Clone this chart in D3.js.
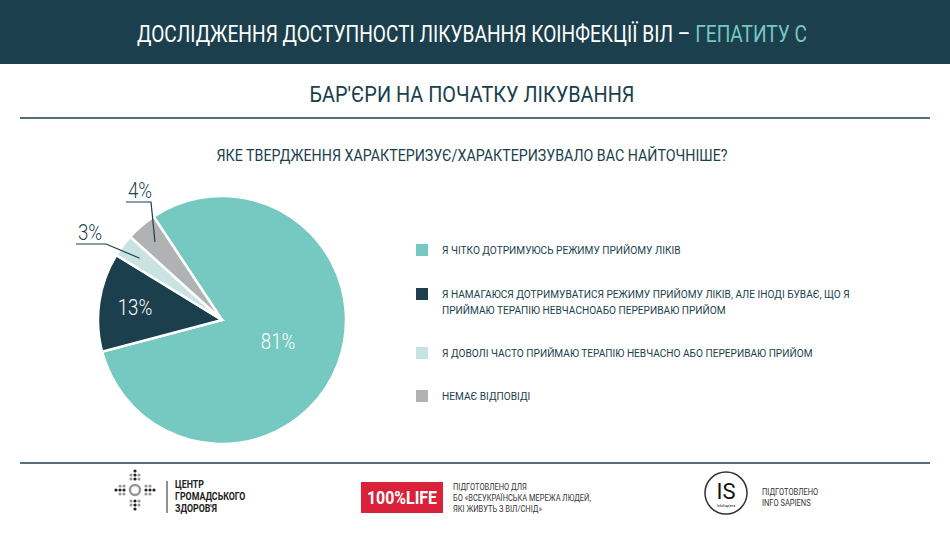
<!DOCTYPE html><html><head><meta charset="utf-8"><script src="https://cdn.jsdelivr.net/npm/d3@7"></script>
<style>body{margin:0;background:#fff}text{font-family:Roboto,"Noto Sans",sans-serif}</style></head><body>
<svg id="c" width="950" height="535"></svg>
<script>
const categories=["Я ЧІТКО ДОТРИМУЮСЬ РЕЖИМУ ПРИЙОМУ ЛІКІВ","Я НАМАГАЮСЯ ДОТРИМУВАТИСЯ РЕЖИМУ ПРИЙОМУ ЛІКІВ, АЛЕ ІНОДІ БУВАЄ, ЩО Я|ПРИЙМАЮ ТЕРАПІЮ НЕВЧАСНОАБО ПЕРЕРИВАЮ ПРИЙОМ","Я ДОВОЛІ ЧАСТО ПРИЙМАЮ ТЕРАПІЮ НЕВЧАСНО АБО ПЕРЕРИВАЮ ПРИЙОМ","НЕМАЄ ВІДПОВІДІ"];
const values=[81,13,3,4];
const colors=["#76c9c0","#1b3f4d","#c9e3e3","#b1b2b4"];
const dark="#1b3f4d";
const svg=d3.select("#c");
function fit(sel,k=0.88){const n=sel.node();const w=n.getComputedTextLength();sel.attr("textLength",w*k).attr("lengthAdjust","spacingAndGlyphs");return sel;}
svg.append("rect").attr("width",950).attr("height",64).attr("fill",dark);
const tt=svg.append("text").attr("x",137).attr("y",42).attr("font-size",23).attr("fill","#fff").attr("textLength",670).attr("lengthAdjust","spacingAndGlyphs");
tt.append("tspan").text("ДОСЛІДЖЕННЯ ДОСТУПНОСТІ ЛІКУВАННЯ КОІНФЕКЦІЇ ВІЛ – ");
tt.append("tspan").attr("fill","#76c9c0").text("ГЕПАТИТУ С");
svg.append("text").attr("x",472).attr("y",102).attr("text-anchor","middle").attr("font-size",22).attr("fill",dark).attr("textLength",325).attr("lengthAdjust","spacingAndGlyphs").text("БАР'ЄРИ НА ПОЧАТКУ ЛІКУВАННЯ");
[118,463].forEach(y=>svg.append("line").attr("x1",20).attr("x2",930).attr("y1",y).attr("y2",y).attr("stroke",dark).attr("stroke-width",1.5));
svg.append("text").attr("x",472).attr("y",161).attr("text-anchor","middle").attr("font-size",16).attr("fill",dark).attr("textLength",511).attr("lengthAdjust","spacingAndGlyphs").text("ЯКЕ ТВЕРДЖЕННЯ ХАРАКТЕРИЗУЄ/ХАРАКТЕРИЗУВАЛО ВАС НАЙТОЧНІШЕ?");
const cx=222,cy=320,R=124;
const a0=-33.5*Math.PI/180;
const pie=d3.pie().sort(null).startAngle(a0).endAngle(a0+2*Math.PI)(values);
const arc=d3.arc().innerRadius(0).outerRadius(R);
const g=svg.append("g").attr("transform",`translate(${cx},${cy})`);
g.selectAll("path").data(pie).join("path").attr("d",arc).attr("fill",(d,i)=>colors[i]).attr("stroke","#fff").attr("stroke-width",2.5);
const inner=[{i:0,r:60,c:"#fff"},{i:1,r:88,c:"#fff"}];
inner.forEach(o=>{const p=d3.arc().innerRadius(o.r).outerRadius(o.r).centroid(pie[o.i]);
 fit(g.append("text").attr("x",p[0]).attr("y",p[1]+8).attr("text-anchor","middle").attr("font-size",22).attr("font-weight",300).attr("fill",o.c).text(values[o.i]+"%"),0.85);});
const call=[{i:3,lx:126,ly:202,lx2:157,tx:140},{i:2,lx:76,ly:244,lx2:112,tx:90}];
call.forEach(o=>{const p=d3.arc().innerRadius(R*0.83).outerRadius(R*0.83).centroid(pie[o.i]);
 svg.append("polyline").attr("points",`${cx+p[0]},${cy+p[1]} ${o.lx2-6},${o.ly} ${o.lx},${o.ly}`).attr("fill","none").attr("stroke",dark).attr("stroke-width",1.2);
 fit(svg.append("text").attr("x",o.tx).attr("y",o.ly-4).attr("text-anchor","middle").attr("font-size",22).attr("font-weight",300).attr("fill",dark).text(values[o.i]+"%"),0.85);});
const ly=[250,294,353,396];
categories.forEach((c,i)=>{svg.append("rect").attr("x",416).attr("y",ly[i]-6).attr("width",12).attr("height",12).attr("fill",colors[i]);
 c.split("|").forEach((s,j)=>fit(svg.append("text").attr("x",442).attr("y",ly[i]+4+j*16).attr("font-size",11.5).attr("fill",dark).text(s)));});
const lg=svg.append("g");
const dots=[[0,-19],[0,-15],[-4,-15],[4,-15],[-4,-11],[4,-11],[0,-11],[0,11],[0,15],[-4,15],[4,15],[0,19],[-4,11],[4,11],[-19,0],[-15,0],[-15,-4],[-15,4],[-11,0],[-11,-4],[-11,4],[19,0],[15,0],[15,-4],[15,4],[11,0],[11,-4],[11,4]];
dots.forEach(([a,b])=>lg.append("circle").attr("cx",135+a).attr("cy",490+b).attr("r",1.6).attr("fill",Math.abs(a)==4||Math.abs(b)==4?"#999":"#222"));
lg.append("circle").attr("cx",135).attr("cy",490).attr("r",5).attr("fill","none").attr("stroke","#999").attr("stroke-width",2.5);
svg.append("line").attr("x1",167).attr("x2",167).attr("y1",481).attr("y2",513).attr("stroke","#222");
["ЦЕНТР","ГРОМАДСЬКОГО","ЗДОРОВ'Я"].forEach((s,i)=>fit(svg.append("text").attr("x",175).attr("y",488+i*12).attr("font-size",10).attr("font-weight",700).attr("fill","#222").text(s)));
svg.append("rect").attr("x",361).attr("y",482).attr("width",82).attr("height",31).attr("fill","#d9213a");
svg.append("text").attr("x",402).attr("y",504).attr("text-anchor","middle").attr("font-size",18).attr("font-weight",700).attr("fill","#fff").attr("textLength",70).attr("lengthAdjust","spacingAndGlyphs").text("100%LIFE");
["ПІДГОТОВЛЕНО ДЛЯ","БО «ВСЕУКРАЇНСЬКА МЕРЕЖА ЛЮДЕЙ,","ЯКІ ЖИВУТЬ З ВІЛ/СНІД»"].forEach((s,i)=>fit(svg.append("text").attr("x",453).attr("y",490+i*11).attr("font-size",8.5).attr("fill","#333").text(s)));
svg.append("circle").attr("cx",726).attr("cy",493).attr("r",21).attr("fill","none").attr("stroke","#333").attr("stroke-width",1.5);
svg.append("text").attr("x",726).attr("y",499).attr("text-anchor","middle").attr("font-size",22).attr("font-family","Liberation Serif").attr("fill","#111").text("IS");
svg.append("text").attr("x",726).attr("y",507).attr("text-anchor","middle").attr("font-size",3.5).attr("fill","#111").text("InfoSapiens");
["ПІДГОТОВЛЕНО","INFO SAPIENS"].forEach((s,i)=>fit(svg.append("text").attr("x",762).attr("y",495+i*11).attr("font-size",8.5).attr("fill","#333").text(s)));
</script></body></html>
